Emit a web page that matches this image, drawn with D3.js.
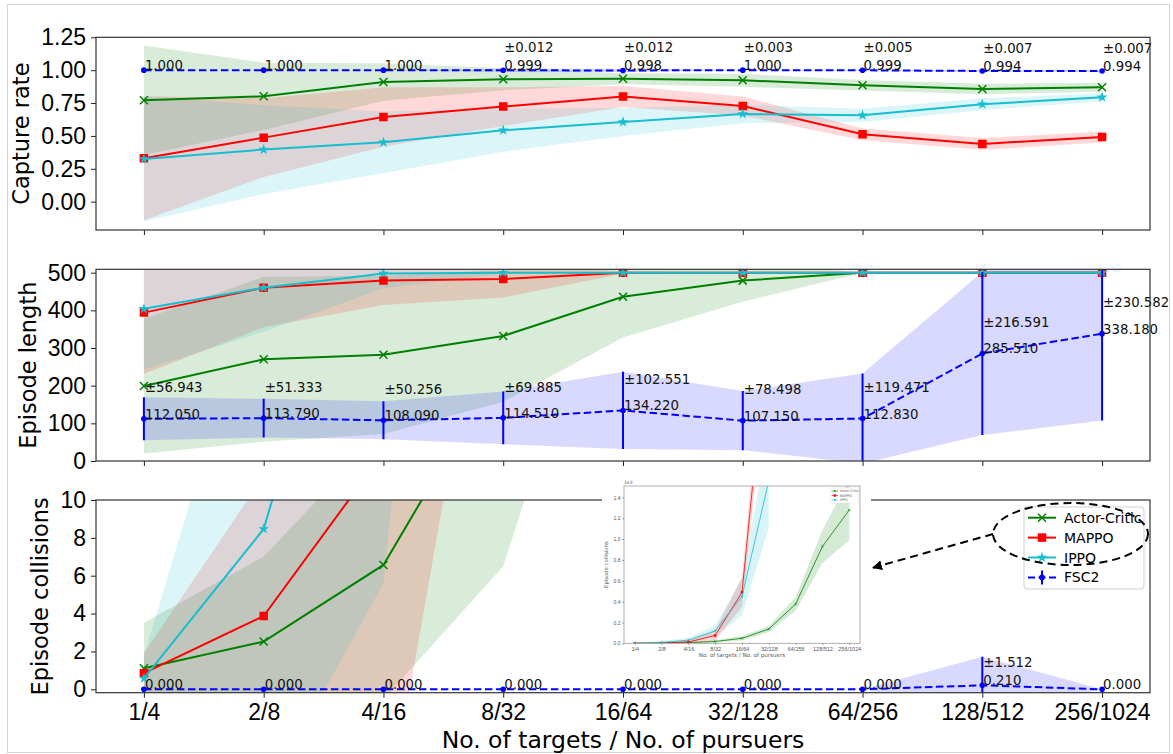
<!DOCTYPE html>
<html>
<head>
<meta charset="utf-8">
<title>Capture rate, episode length and collisions</title>
<script src="https://cdn.jsdelivr.net/npm/d3@7"></script>
<style>
  body { margin: 0; background: #fff; }
  svg { font-family: "DejaVu Sans", sans-serif; }
  .axis text { font-size: 23px; fill: #000; }
  .axis line { stroke: #222; }
  .frame { fill: none; stroke: #333; stroke-width: 1.2; }
  .ylab { font-size: 22.5px; }
  .ann { font-size: 13.3px; fill: #111; }
  .leg text { font-size: 14px; }
  .inset text { fill: #555; }
</style>
</head>
<body>
<svg width="1173" height="754"></svg>
<script>
// ---- data ----
var labels = ["1/4", "2/8", "4/16", "8/32", "16/64", "32/128", "64/256", "128/512", "256/1024"];

// capture rate
var capAC = [0.771, 0.801, 0.910, 0.931, 0.935, 0.923, 0.885, 0.857, 0.870];
var capACStd = [0.416, 0.256, 0.142, 0.083, 0.042, 0.050, 0.040, 0.040, 0.035];
var capMAPPO = [0.330, 0.487, 0.644, 0.723, 0.799, 0.728, 0.512, 0.439, 0.492];
var capMAPPOStd = [0.472, 0.300, 0.226, 0.147, 0.080, 0.072, 0.045, 0.045, 0.042];
var capIPPO = [0.325, 0.396, 0.451, 0.543, 0.606, 0.667, 0.657, 0.741, 0.794];
var capIPPOStd = [0.475, 0.338, 0.235, 0.163, 0.107, 0.070, 0.050, 0.045, 0.030];
var capFSC2 = [1.000, 1.000, 1.000, 0.999, 0.998, 1.000, 0.999, 0.994, 0.994];
var capFSC2Std = [0, 0, 0, 0.012, 0.012, 0.003, 0.005, 0.007, 0.007];

// episode length
var lenAC = [199, 270, 282, 332, 436, 479, 500, 500, 500];
var lenACStd = [179, 219, 210, 175, 108, 56, 0, 0, 0];
var lenMAPPO = [394, 460, 479, 483, 500, 500, 500, 500, 500];
var lenMAPPOStd = [163, 105, 65, 49, 3, 0, 0, 0, 0];
var lenIPPO = [404, 460, 498, 500, 500, 500, 500, 500, 500];
var lenIPPOStd = [161, 117, 39, 2, 0, 0, 0, 0, 0];
var lenFSC2 = [112.05, 113.79, 108.09, 114.51, 134.22, 107.15, 112.83, 285.51, 338.18];
var lenFSC2Std = [56.943, 51.333, 50.256, 69.885, 102.551, 78.498, 119.471, 216.591, 230.582];

// episode collisions
var colAC = [1.11, 2.52, 6.57, 17.3, 48, 137, 377, 930, 1280];
var colACStd = [2.4, 4.5, 7.1, 10.8, 22, 30, 65, 160, 290];
var colMAPPO = [0.85, 3.87, 12.5, 75, 490, 3080, null, null, null];
var colMAPPOStd = [1.05, 7.4, 20.5, 47, 140, 300, null, null, null];
var colIPPO = [0.58, 8.47, 30, 120, 450, 1560, null, null, null];
var colIPPOStd = [1.2, 14.3, 24.4, 51, 180, 450, null, null, null];
var colFSC2 = [0, 0, 0, 0, 0, 0, 0, 0.210, 0];
var colFSC2Std = [0, 0, 0, 0, 0, 0, 0, 1.512, 0];

var capTicks = [0, 0.25, 0.5, 0.75, 1.0, 1.25];
var lenTicks = [0, 100, 200, 300, 400, 500];
var colTicks = [0, 2, 4, 6, 8, 10];
var insetTicks = [0, 200, 400, 600, 800, 1000, 1200, 1400];

// ---- styles ----
var GREEN = "#008000", RED = "#ff0000", CYAN = "#17becf", BLUE = "#0000ff";

var svg = d3.select("svg");

svg.append("rect")
    .attr("x", 7.5).attr("y", 4.5)
    .attr("width", 1162).attr("height", 748)
    .attr("fill", "none").attr("stroke", "#d4d4d4");

var x = d3.scalePoint().domain(labels).range([96, 1150]).padding(0.4);

function markerPath(kind, s) {
  if (kind == "x") return "M" + (-s) + "," + (-s) + "L" + s + "," + s + "M" + (-s) + "," + s + "L" + s + "," + (-s);
  if (kind == "s") return d3.symbol(d3.symbolSquare, s * s)();
  if (kind == "*") return d3.symbol(d3.symbolStar, s)();
  return null;
}

function drawMarker(g, kind, color, px, py, big) {
  if (kind == "x") {
    g.append("path").attr("d", markerPath("x", big ? 4 : 1.2))
      .attr("transform", "translate(" + px + "," + py + ")")
      .attr("fill", "none").attr("stroke", color).attr("stroke-width", big ? 1.5 : 0.6);
  } else if (kind == "s") {
    g.append("path").attr("d", markerPath("s", big ? 8.5 : 2.4))
      .attr("transform", "translate(" + px + "," + py + ")")
      .attr("fill", color);
  } else if (kind == "*") {
    g.append("path").attr("d", markerPath("*", big ? 36 : 3))
      .attr("transform", "translate(" + px + "," + py + ")")
      .attr("fill", color);
  } else {
    g.append("circle").attr("cx", px).attr("cy", py).attr("r", big ? 2.8 : 0.8).attr("fill", color);
  }
}

function makeSeries(mean, std) {
  return labels.map(function(l, i) { return { l: l, m: mean[i], s: std[i] }; });
}

var clipId = 0;

function drawPanel(opt) {
  var y = d3.scaleLinear().domain(opt.domain).range([opt.bottom, opt.top]);
  var g = svg.append("g");
  var id = "clip" + (clipId++);
  svg.append("clipPath").attr("id", id).append("rect")
    .attr("x", 96).attr("y", opt.top).attr("width", 1054).attr("height", opt.bottom - opt.top);
  var plot = g.append("g").attr("clip-path", "url(#" + id + ")");

  var series = [
    { d: makeSeries(opt.ac, opt.acStd), c: GREEN, m: "x", a: 0.15 },
    { d: makeSeries(opt.mappo, opt.mappoStd), c: RED, m: "s", a: 0.15 },
    { d: makeSeries(opt.ippo, opt.ippoStd), c: CYAN, m: "*", a: 0.15 },
    { d: makeSeries(opt.fsc, opt.fscStd), c: BLUE, m: ".", a: 0.15, dash: true }
  ];

  var area = d3.area()
    .defined(function(d) { return d.m != null; })
    .x(function(d) { return x(d.l); })
    .y0(function(d) { return y(d.m - d.s); })
    .y1(function(d) { return y(d.m + d.s); });
  var line = d3.line()
    .defined(function(d) { return d.m != null; })
    .x(function(d) { return x(d.l); })
    .y(function(d) { return y(d.m); });

  series.forEach(function(s) {
    plot.append("path").datum(s.d).attr("d", area)
      .attr("fill", s.c).attr("fill-opacity", s.a).attr("stroke", "none");
  });

  series.forEach(function(s) {
    plot.append("path").datum(s.d).attr("d", line)
      .attr("fill", "none").attr("stroke", s.c).attr("stroke-width", 2)
      .attr("stroke-dasharray", s.dash ? "7.5,3.5" : null);
    if (s.dash) {
      s.d.forEach(function(d) {
        if (d.s > 0) {
          plot.append("line")
            .attr("x1", x(d.l)).attr("x2", x(d.l))
            .attr("y1", y(d.m - d.s)).attr("y2", y(d.m + d.s))
            .attr("stroke", s.c).attr("stroke-width", 2);
        }
      });
    }
    s.d.forEach(function(d) {
      if (d.m != null) drawMarker(plot, s.m, s.c, x(d.l), y(d.m), true);
    });
  });

  // value labels for FSC2
  series[3].d.forEach(function(d) {
    g.append("text").attr("class", "ann")
      .attr("x", x(d.l) + 1).attr("y", y(d.m))
      .text(d.m.toFixed(3));
    if (d.s > 0) {
      g.append("text").attr("class", "ann")
        .attr("x", x(d.l) + 1).attr("y", y(d.m + opt.stdOff))
        .text("\u00b1" + d.s.toFixed(3));
    }
  });

  var yAxis = g.append("g").attr("class", "axis")
    .attr("transform", "translate(96,0)")
    .call(d3.axisLeft(y).tickValues(opt.ticks).tickFormat(opt.fmt).tickSize(5).tickPadding(5));
  yAxis.select(".domain").remove();

  var xAxis = g.append("g").attr("class", "axis")
    .attr("transform", "translate(0," + opt.bottom + ")")
    .call(d3.axisBottom(x).tickSize(5).tickPadding(6));
  xAxis.select(".domain").remove();
  if (!opt.xLabels) xAxis.selectAll("text").remove();

  g.append("rect").attr("class", "frame")
    .attr("x", 96).attr("y", opt.top).attr("width", 1054).attr("height", opt.bottom - opt.top);

  var bb = yAxis.node().getBBox();
  g.append("text").attr("class", "ylab")
    .attr("transform", "translate(" + (bb.x + 96 - 12) + "," + ((opt.top + opt.bottom) / 2) + ") rotate(-90)")
    .attr("text-anchor", "middle")
    .text(opt.ylabel);
  return g;
}

drawPanel({
  domain: [-0.2155, 1.25], top: 37.3, bottom: 230,
  ac: capAC, acStd: capACStd, mappo: capMAPPO, mappoStd: capMAPPOStd,
  ippo: capIPPO, ippoStd: capIPPOStd, fsc: capFSC2, fscStd: capFSC2Std,
  ticks: capTicks, fmt: d3.format(".2f"), stdOff: 0.14, ylabel: "Capture rate"
});

drawPanel({
  domain: [0, 509], top: 269.3, bottom: 461,
  ac: lenAC, acStd: lenACStd, mappo: lenMAPPO, mappoStd: lenMAPPOStd,
  ippo: lenIPPO, ippoStd: lenIPPOStd, fsc: lenFSC2, fscStd: lenFSC2Std,
  ticks: lenTicks, fmt: d3.format("d"), stdOff: 70, ylabel: "Episode length"
});

drawPanel({
  domain: [-0.18, 10], top: 500, bottom: 692.7,
  ac: colAC, acStd: colACStd, mappo: colMAPPO, mappoStd: colMAPPOStd,
  ippo: colIPPO, ippoStd: colIPPOStd, fsc: colFSC2, fscStd: colFSC2Std,
  ticks: colTicks, fmt: d3.format("d"), stdOff: 0.95, ylabel: "Episode collisions",
  xLabels: true
});

svg.append("text")
  .attr("x", 623).attr("y", 748)
  .attr("text-anchor", "middle")
  .style("font-size", "23.5px")
  .text("No. of targets / No. of pursuers");

// ---- inset: collisions over the full range ----
var inset = svg.append("g").attr("class", "inset");
inset.append("rect").attr("x", 602).attr("y", 478).attr("width", 269).attr("height", 184).attr("fill", "#fff");

var ix = d3.scalePoint().domain(labels).range([624, 860]).padding(0.4);
var iy = d3.scaleLinear().domain([0, 1510]).range([643.3, 486]);

svg.append("clipPath").attr("id", "iclip").append("rect")
  .attr("x", 624).attr("y", 486).attr("width", 236).attr("height", 157.3);
var iplot = inset.append("g").attr("clip-path", "url(#iclip)");

var iseries = [
  { d: makeSeries(colAC, colACStd), c: GREEN, m: "x" },
  { d: makeSeries(colMAPPO, colMAPPOStd), c: RED, m: "s" },
  { d: makeSeries(colIPPO, colIPPOStd), c: CYAN, m: "*" }
];
var iarea = d3.area()
  .defined(function(d) { return d.m != null; })
  .x(function(d) { return ix(d.l); })
  .y0(function(d) { return iy(d.m - d.s); })
  .y1(function(d) { return iy(d.m + d.s); });
var iline = d3.line()
  .defined(function(d) { return d.m != null; })
  .x(function(d) { return ix(d.l); })
  .y(function(d) { return iy(d.m); });

iseries.forEach(function(s) {
  iplot.append("path").datum(s.d).attr("d", iarea).attr("fill", s.c).attr("fill-opacity", 0.17);
});
iseries.forEach(function(s) {
  iplot.append("path").datum(s.d).attr("d", iline)
    .attr("fill", "none").attr("stroke", s.c).attr("stroke-width", 0.8);
  s.d.forEach(function(d) {
    if (d.m != null) drawMarker(iplot, s.m, s.c, ix(d.l), iy(d.m), false);
  });
});

inset.append("rect").attr("x", 624).attr("y", 486).attr("width", 236).attr("height", 157.3)
  .attr("fill", "none").attr("stroke", "#9a9a9a").attr("stroke-width", 0.8);

var iyAxis = inset.append("g").attr("transform", "translate(624,0)")
  .call(d3.axisLeft(iy).tickValues(insetTicks).tickSize(1.5).tickPadding(2)
    .tickFormat(function(v) { return (v / 1000).toFixed(1); }));
iyAxis.select(".domain").remove();
iyAxis.selectAll("text").style("font-size", "5px");
iyAxis.selectAll("line").attr("stroke", "#888");

var ixAxis = inset.append("g").attr("transform", "translate(0,643.3)")
  .call(d3.axisBottom(ix).tickSize(1.5).tickPadding(2));
ixAxis.select(".domain").remove();
ixAxis.selectAll("text").style("font-size", "5.5px");
ixAxis.selectAll("line").attr("stroke", "#888");

inset.append("text").attr("x", 624).attr("y", 484).style("font-size", "4.5px").text("1e3");
inset.append("text").attr("x", 742).attr("y", 657).attr("text-anchor", "middle")
  .style("font-size", "5.6px").text("No. of targets / No. of pursuers");
inset.append("text")
  .attr("transform", "translate(608,564.6) rotate(-90)")
  .attr("text-anchor", "middle").style("font-size", "5.3px").text("Episode collisions");

var ileg = inset.append("g").attr("transform", "translate(830,488)");
ileg.append("rect").attr("width", 28).attr("height", 15).attr("fill", "#fff").attr("stroke", "#ddd").attr("stroke-width", 0.4);
[["Actor-Critic", GREEN, "x"], ["MAPPO", RED, "s"], ["IPPO", CYAN, "*"]].forEach(function(e, i) {
  var yy = 3 + i * 4.5;
  ileg.append("line").attr("x1", 1.5).attr("x2", 8).attr("y1", yy).attr("y2", yy)
    .attr("stroke", e[1]).attr("stroke-width", 0.6);
  drawMarker(ileg, e[2], e[1], 4.8, yy, false);
  ileg.append("text").attr("x", 10).attr("y", yy + 1.2).style("font-size", "3.4px").text(e[0]);
});

// ---- legend ----
var leg = svg.append("g").attr("class", "leg").attr("transform", "translate(1024,507)");
leg.append("rect").attr("width", 120).attr("height", 82).attr("rx", 3)
  .attr("fill", "#fff").attr("fill-opacity", 0.8).attr("stroke", "#cfcfcf");
[["Actor-Critic", GREEN, "x"], ["MAPPO", RED, "s"], ["IPPO", CYAN, "*"], ["FSC2", BLUE, "."]].forEach(function(e, i) {
  var yy = 10.7 + i * 19.9;
  leg.append("line").attr("x1", 4).attr("x2", 32).attr("y1", yy).attr("y2", yy)
    .attr("stroke", e[1]).attr("stroke-width", 2)
    .attr("stroke-dasharray", e[2] == "." ? "7,3.5" : null);
  if (e[2] == ".") {
    leg.append("line").attr("x1", 18).attr("x2", 18).attr("y1", yy - 7).attr("y2", yy + 7)
      .attr("stroke", e[1]).attr("stroke-width", 2);
  }
  drawMarker(leg, e[2], e[1], 18, yy, true);
  leg.append("text").attr("x", 40).attr("y", yy).attr("dy", "0.36em").text(e[0]);
});

// ---- dashed ellipse and arrow pointing to the inset ----
var defs = svg.append("defs");
defs.append("marker").attr("id", "arrow")
  .attr("viewBox", "0 -5 10 10").attr("refX", 9).attr("refY", 0)
  .attr("markerWidth", 5).attr("markerHeight", 5).attr("orient", "auto")
  .append("path").attr("d", "M0,-5L10,0L0,5Z").attr("fill", "#000");

svg.append("ellipse")
  .attr("cx", 1070.5).attr("cy", 534).attr("rx", 77.5).attr("ry", 31)
  .attr("fill", "none").attr("stroke", "#000").attr("stroke-width", 2)
  .attr("stroke-dasharray", "8,5");

svg.append("line")
  .attr("x1", 993).attr("y1", 534).attr("x2", 873).attr("y2", 567.7)
  .attr("stroke", "#000").attr("stroke-width", 2)
  .attr("stroke-dasharray", "8,5")
  .attr("marker-end", "url(#arrow)");
</script>
</body>
</html>
